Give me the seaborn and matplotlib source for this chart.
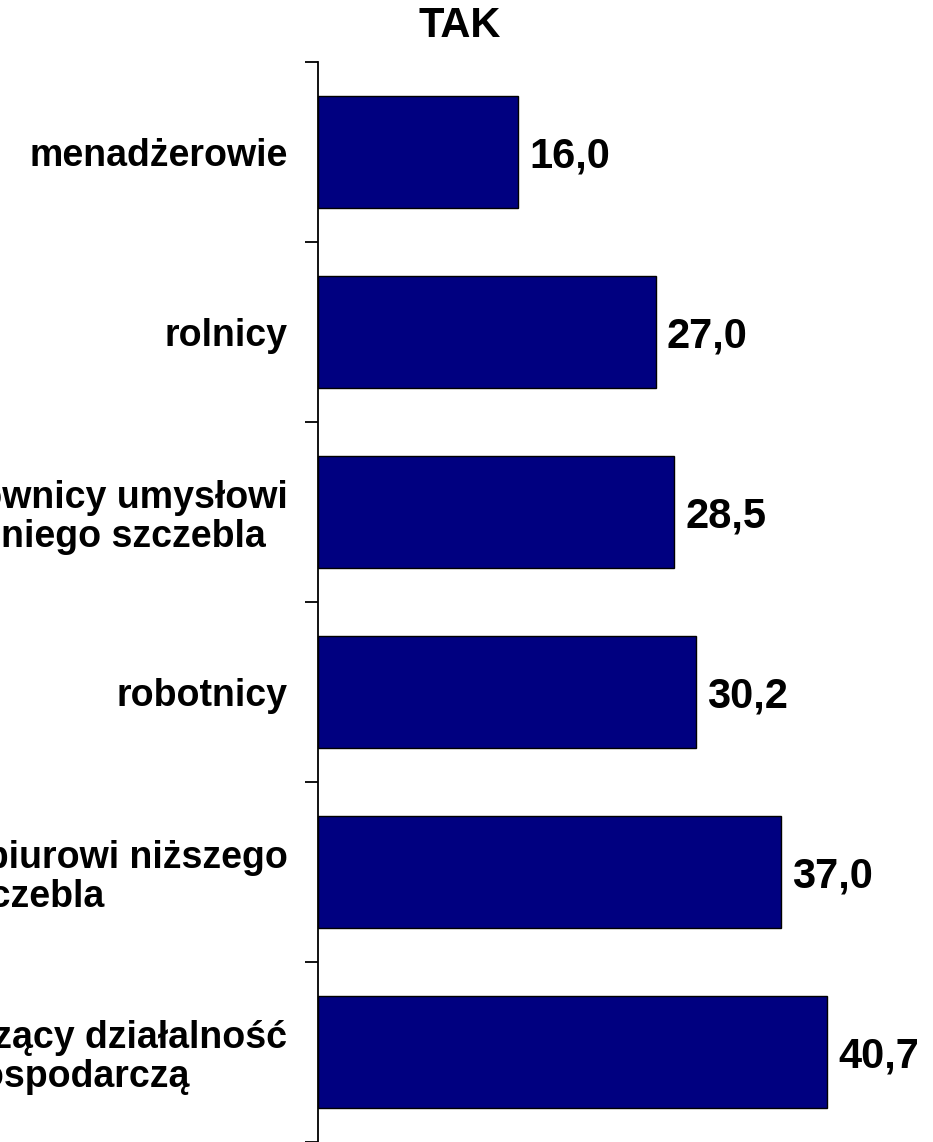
import numpy as np
import pandas as pd
import matplotlib
matplotlib.use("Agg")
import matplotlib.pyplot as plt
import seaborn as sns

# data
categories = [
    "menadżerowie",
    "rolnicy",
    "pracownicy umysłowi\nśredniego szczebla",
    "robotnicy",
    "pracownicy biurowi niższego\nszczebla",
    "prowadzący działalność\ngospodarczą",
]
values = [16.0, 27.0, 28.5, 30.2, 37.0, 40.7]
value_labels = ["16,0", "27,0", "28,5", "30,2", "37,0", "40,7"]
title = "TAK"

sns.set_theme(style="white")
plt.rcParams['font.family'] = ['Liberation Sans', 'DejaVu Sans']
plt.rcParams['font.weight'] = 'bold'
plt.rcParams['text.color'] = 'black'
plt.rcParams['ytick.color'] = 'black'
plt.rcParams['ytick.labelcolor'] = 'black'

df = pd.DataFrame({"kategoria": categories, "procent": values})

fig = plt.figure(figsize=(9.33, 11.42), dpi=100)
ax = fig.add_axes([318 / 933, 0, (933 - 318) / 933, (1142 - 62) / 1142])

sns.barplot(data=df, x="procent", y="kategoria", orient="h", color="#000080",
            saturation=1, width=0.62, edgecolor="black", linewidth=1, ax=ax)

ax.set_xlim(0, (933 - 318) / 12.5)
ax.set_ylim(len(categories) - 0.5, -0.5)

# value labels next to the bars
for i, (v, lab) in enumerate(zip(values, value_labels)):
    ax.text(v + 0.9, i + 0.025, lab, va="center", ha="left", fontsize=30,
            fontweight="bold", color="black")

# spines and ticks
for s in ["top", "right", "bottom"]:
    ax.spines[s].set_visible(False)
ax.spines["left"].set_color("black")
ax.spines["left"].set_linewidth(1.3)
ax.set_xticks([])
ax.set_xlabel("")
ax.set_ylabel("")
ax.set_yticks(range(len(categories)))
ax.set_yticklabels(categories, fontsize=27, fontweight="bold", ha="right",
                   multialignment="center", linespacing=1.12, color="black")
ax.set_yticks(np.arange(-0.5, len(categories)), minor=True)
ax.tick_params(axis="y", which="major", length=0, pad=22)
ax.tick_params(axis="y", which="minor", length=9.5, width=1.3, color="black",
               direction="out", left=True)

fig.text(460 / 933, 1 - 26 / 1142, title, ha="center", va="center",
         fontsize=30, fontweight="bold", color="black")

fig.savefig("out.png", dpi=100)
